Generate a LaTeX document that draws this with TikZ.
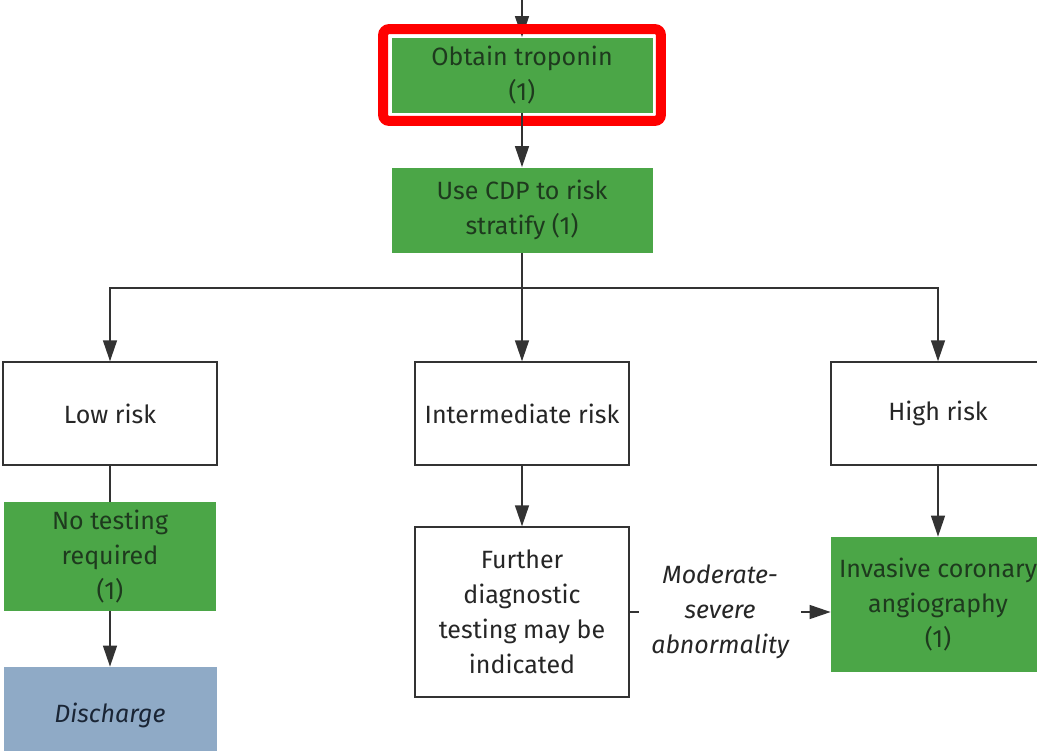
\documentclass[tikz,border=0pt]{standalone}
\usepackage{fontspec}
\setmainfont{Fira Sans}
\usepackage{xcolor}
\definecolor{vert}{HTML}{4BA647}
\definecolor{vertfonce}{HTML}{1E3A1E}
\definecolor{bleugris}{HTML}{8FAAC6}
\definecolor{bleufonce}{HTML}{1A2535}
\definecolor{trait}{HTML}{333333}
\usetikzlibrary{positioning,arrows.meta,calc,fit}

\begin{document}
\begin{tikzpicture}[x=0.5pt,y=-0.5pt,
  vertbox/.style={fill=vert,text=vertfonce,minimum width=130.5pt,align=center,font=\fontsize{12.5}{17.5}\selectfont},
  blanc/.style={draw=trait,fill=white,line width=0.7pt,text=black!85,minimum width=107pt,align=center,font=\fontsize{12.5}{17.5}\selectfont},
  bleu/.style={fill=bleugris,text=bleufonce,minimum width=106.5pt,align=center,font=\itshape\fontsize{12.5}{17.5}\selectfont},
  cadre/.style={draw=red,line width=5pt,rounded corners=3pt,inner sep=4pt},
  etiq/.style={fill=white,text=black!85,align=center,inner xsep=6pt,font=\itshape\fontsize{12.5}{17.5}\selectfont},
  fl/.style={-{Triangle[length=10.5pt,width=7pt]},trait,line width=0.7pt},
  ligne/.style={trait,line width=0.7pt}
]
\clip (0,0) rectangle (1037,750);
% haut
\coordinate (entree) at (522,0);
\node[vertbox,minimum height=37.5pt] (trop) at (522,75) {Obtain troponin\\(1)};
\node[vertbox,minimum height=42.5pt] (cdp) at (522,210) {Use CDP to risk\\stratify (1)};
% niveaux de risque
\node[blanc,minimum height=51.5pt] (bas) at (110,413.5) {Low risk};
\node[blanc,minimum height=51.5pt] (inter) at (522,413.5) {Intermediate risk};
\node[blanc,minimum height=51.5pt] (haut) at (938,413.5) {High risk};
% suites
\node[vertbox,minimum width=106pt,minimum height=54.5pt] (rien) at (110,556.5) {No testing\\required\\(1)};
\node[bleu,minimum height=48pt] (sortie) at (110,715) {Discharge};
\node[blanc,minimum height=85pt] (tests) at (522,612) {Further\\diagnostic\\testing may be\\indicated};
\node[vertbox,minimum width=107pt,minimum height=67.5pt] (coro) at (938,604.5) {Invasive coronary\\angiography\\(1)};
% fleches
\draw[fl] (entree) -- (trop);
\node[cadre,fit=(trop)] (marque) {};
\draw[fl] (trop) -- (cdp);
\coordinate (split) at ($(cdp.south)+(0,35)$);
\draw[fl] (cdp) -- (inter);
\draw[fl] (split) -| (bas);
\draw[fl] (split) -| (haut);
\draw[ligne] (bas) -- (rien);
\draw[fl] (rien) -- (sortie);
\draw[fl] (inter) -- (tests);
\draw[fl] (haut) -- (coro);
\draw[fl] (tests) -- node[etiq,pos=0.45] {Moderate-\\severe\\abnormality} (tests -| coro.west);
\end{tikzpicture}
\end{document}
